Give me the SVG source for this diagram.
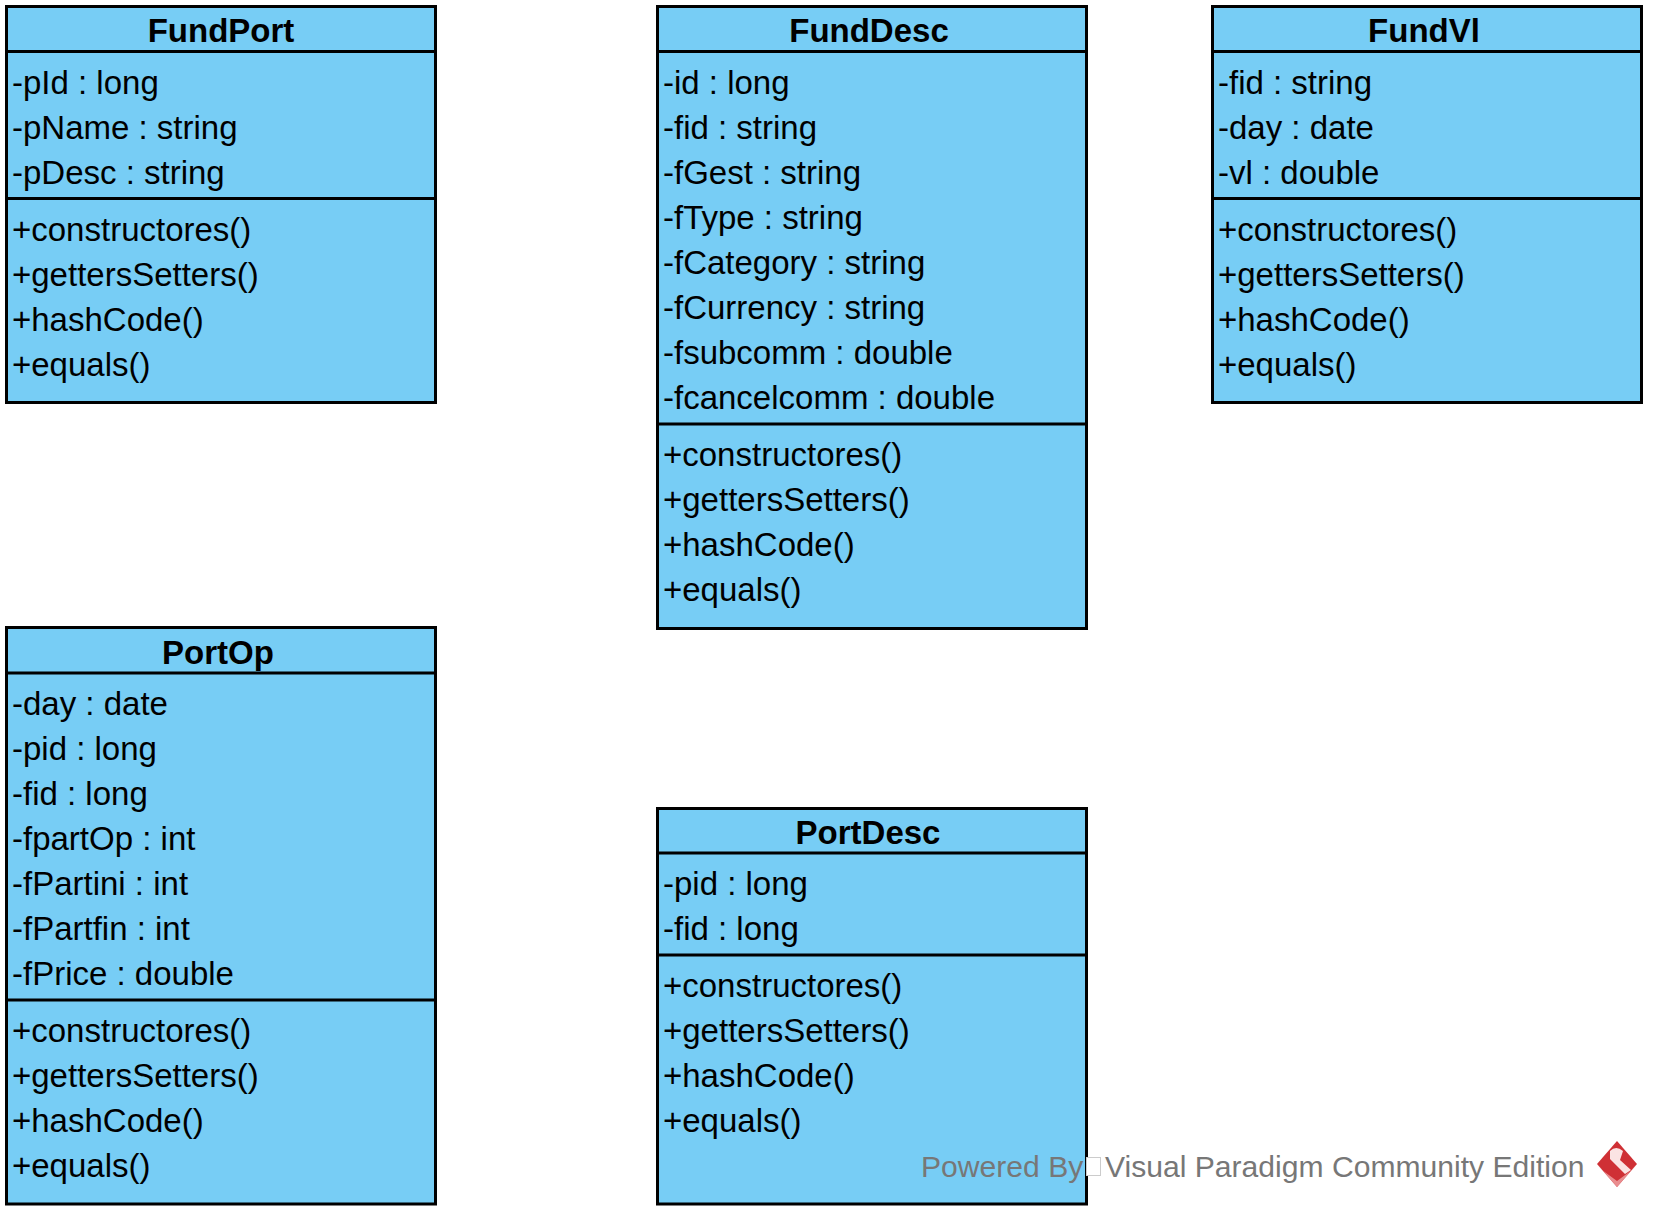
<svg xmlns="http://www.w3.org/2000/svg" width="1653" height="1215" viewBox="0 0 1653 1215">
<style>
text{font-family:"Liberation Sans",Arial,sans-serif;font-size:33px;fill:#000}
.box{fill:#77cdf5;stroke:#000;stroke-width:3}
.ln{stroke:#000;stroke-width:3;fill:none}
.t{font-weight:bold;text-anchor:middle}
.wm{fill:#777;font-size:30.1px}
</style>
<rect width="1653" height="1215" fill="#fff"/>
<g id="FundPort">
<rect class="box" x="6.5" y="6.5" width="429" height="396"/>
<path class="ln" d="M6.5 51.5H435.5M6.5 198.5H435.5"/>
<text class="t" x="221" y="42">FundPort</text>
<text x="12" y="93.7">-pId : long</text><text x="12" y="138.7">-pName : string</text><text x="12" y="183.7">-pDesc : string</text>
<text x="12" y="240.5">+constructores()</text><text x="12" y="285.5">+gettersSetters()</text><text x="12" y="330.5">+hashCode()</text><text x="12" y="375.5">+equals()</text>
</g>
<g id="FundDesc">
<rect class="box" x="657.5" y="6.5" width="429" height="622"/>
<path class="ln" d="M657.5 51.5H1086.5M657.5 424H1086.5"/>
<text class="t" x="869" y="42">FundDesc</text>
<text x="663" y="93.7">-id : long</text><text x="663" y="138.7">-fid : string</text><text x="663" y="183.7">-fGest : string</text><text x="663" y="228.7">-fType : string</text><text x="663" y="273.7">-fCategory : string</text><text x="663" y="318.7">-fCurrency : string</text><text x="663" y="363.7">-fsubcomm : double</text><text x="663" y="408.7">-fcancelcomm : double</text>
<text x="663" y="465.5">+constructores()</text><text x="663" y="510.5">+gettersSetters()</text><text x="663" y="555.5">+hashCode()</text><text x="663" y="600.5">+equals()</text>
</g>
<g id="FundVl">
<rect class="box" x="1212.5" y="6.5" width="429" height="396"/>
<path class="ln" d="M1212.5 51.5H1641.5M1212.5 198.5H1641.5"/>
<text class="t" x="1424" y="42">FundVl</text>
<text x="1218" y="93.7">-fid : string</text><text x="1218" y="138.7">-day : date</text><text x="1218" y="183.7">-vl : double</text>
<text x="1218" y="240.5">+constructores()</text><text x="1218" y="285.5">+gettersSetters()</text><text x="1218" y="330.5">+hashCode()</text><text x="1218" y="375.5">+equals()</text>
</g>
<g id="PortOp">
<rect class="box" x="6.5" y="627.5" width="429" height="576.5"/>
<path class="ln" d="M6.5 673H435.5M6.5 1000H435.5"/>
<text class="t" x="218" y="664">PortOp</text>
<text x="12" y="715">-day : date</text><text x="12" y="760">-pid : long</text><text x="12" y="805">-fid : long</text><text x="12" y="850">-fpartOp : int</text><text x="12" y="895">-fPartini : int</text><text x="12" y="940">-fPartfin : int</text><text x="12" y="985">-fPrice : double</text>
<text x="12" y="1042">+constructores()</text><text x="12" y="1087">+gettersSetters()</text><text x="12" y="1132">+hashCode()</text><text x="12" y="1177">+equals()</text>
</g>
<g id="PortDesc">
<rect class="box" x="657.5" y="808.5" width="429" height="395.5"/>
<path class="ln" d="M657.5 853H1086.5M657.5 955H1086.5"/>
<text class="t" x="868" y="844">PortDesc</text>
<text x="663" y="895">-pid : long</text><text x="663" y="940">-fid : long</text>
<text x="663" y="997">+constructores()</text><text x="663" y="1042">+gettersSetters()</text><text x="663" y="1087">+hashCode()</text><text x="663" y="1132">+equals()</text>
</g>
<g id="watermark">
<text class="wm" x="921" y="1177">Powered By</text>
<rect x="1086.5" y="1157.5" width="14" height="18" fill="#fff" stroke="#ccc" stroke-width="1"/>
<text class="wm" x="1105" y="1177">Visual Paradigm Community Edition</text>
<path d="M1617 1141L1637 1164L1617 1187L1597 1164Z" fill="#cf3035"/>
<path d="M1597 1164L1617 1187L1637 1164L1632 1170L1617 1181L1602 1170Z" fill="#e98d8f"/>
<path d="M1610 1151Q1616 1145 1623 1151L1620 1160L1631 1170L1625 1174L1610 1159Z" fill="#fbe3e3"/>
</g>
</svg>
